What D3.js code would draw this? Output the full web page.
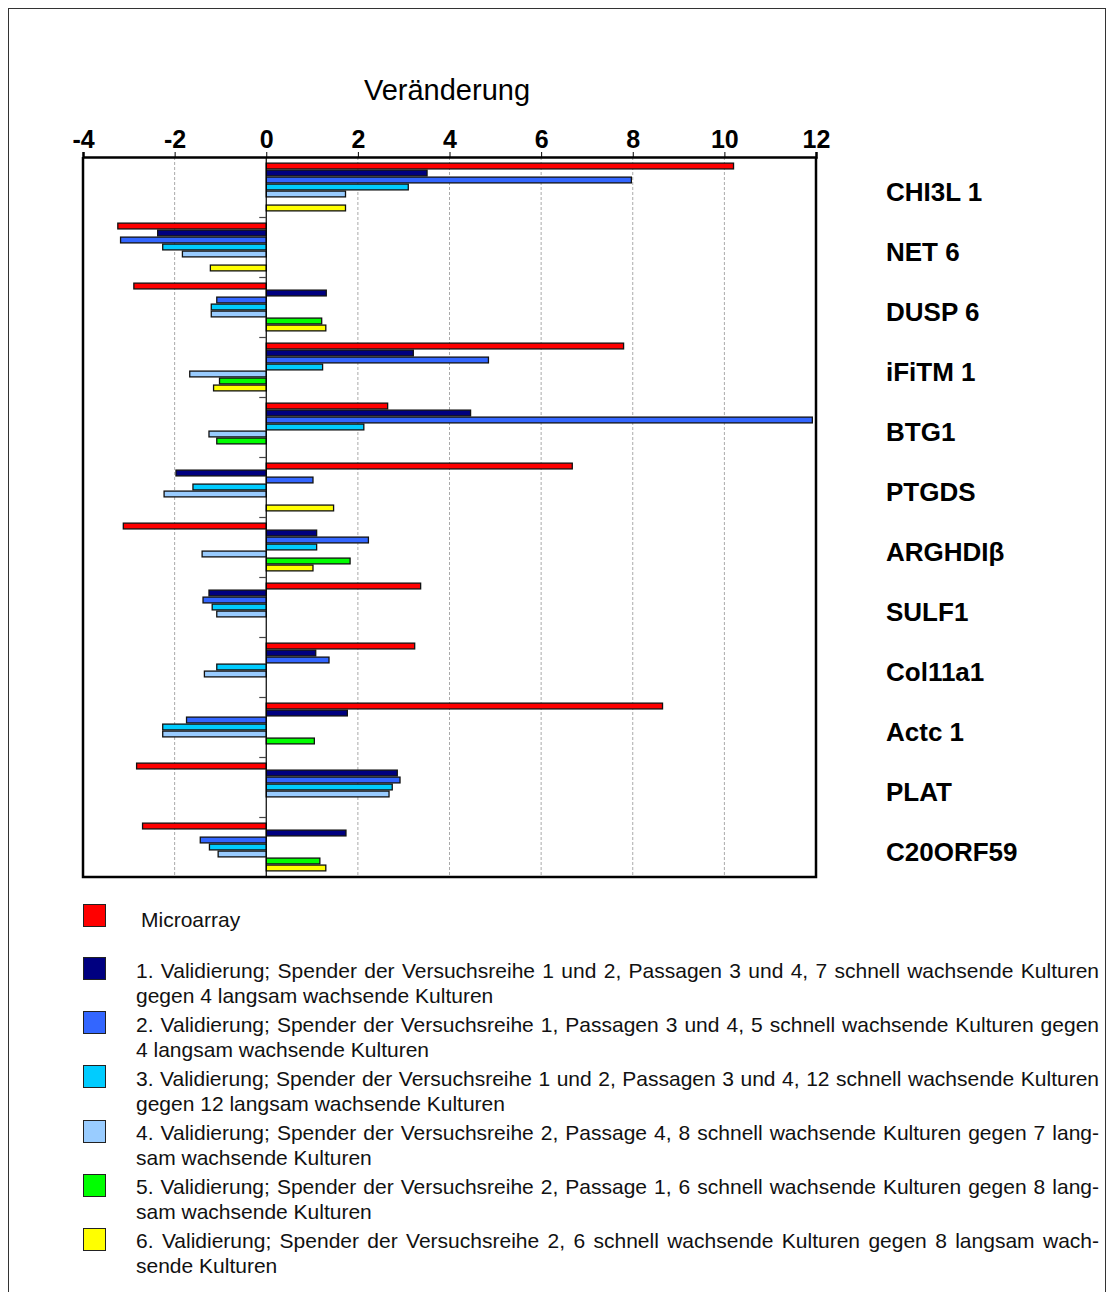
<!DOCTYPE html>
<html>
<head>
<meta charset="utf-8">
<script src="https://cdn.jsdelivr.net/npm/d3@7"></script>
<style>
  html, body { margin: 0; padding: 0; background: #fff; }
  svg { display: block; font-family: "Liberation Sans", Arial, sans-serif; }
</style>
</head>
<body>
<svg id="chart" width="1108" height="1292"></svg>
<script>
// Genes shown on the chart (top to bottom)
const categories = ["CHI3L 1", "NET 6", "DUSP 6", "iFiTM 1", "BTG1", "PTGDS",
  "ARGHDIβ", "SULF1", "Col11a1", "Actc 1", "PLAT", "C20ORF59"];

// Fold change per gene for each series (null = not measured)
const microarray = [10.2, -3.24, -2.89, 7.8, 2.65, 6.68, -3.12, 3.37, 3.24, 8.65, -2.83, -2.7];
const validation1 = [3.51, -2.37, 1.31, 3.21, 4.46, -1.97, 1.10, -1.25, 1.08, 1.77, 2.86, 1.74];
const validation2 = [7.97, -3.18, -1.08, 4.85, 11.92, 1.02, 2.23, -1.38, 1.37, -1.74, 2.92, -1.44];
const validation3 = [3.1, -2.26, -1.2, 1.23, 2.13, -1.6, 1.1, -1.18, -1.08, -2.26, 2.75, -1.24];
const validation4 = [1.73, -1.83, -1.2, -1.67, -1.25, -2.23, -1.4, -1.08, -1.35, -2.26, 2.68, -1.05];
const validation5 = [null, null, 1.21, -1.02, -1.08, null, 1.83, null, null, 1.05, null, 1.17];
const validation6 = [1.73, -1.22, 1.30, -1.15, null, 1.47, 1.02, null, null, null, null, 1.30];

// Axis ticks
const xTicks = [-4, -2, 0, 2, 4, 6, 8, 10, 12];
const xTitle = "Veränderung";

// Series colours
const seriesColors = ["#FF0000", "#000080", "#3366FF", "#00CCFF", "#99CCFF", "#00FF00", "#FFFF00"];

// Legend labels, split into their printed lines
const legendLabels = [
  ["Microarray"],
  ["1. Validierung; Spender der Versuchsreihe 1 und 2, Passagen 3 und 4, 7 schnell wachsende Kulturen",
   "gegen 4 langsam wachsende Kulturen"],
  ["2. Validierung; Spender der Versuchsreihe 1, Passagen 3 und 4, 5 schnell wachsende Kulturen gegen",
   "4 langsam wachsende Kulturen"],
  ["3. Validierung; Spender der Versuchsreihe 1 und 2, Passagen 3 und 4, 12 schnell wachsende Kulturen",
   "gegen 12 langsam wachsende Kulturen"],
  ["4. Validierung; Spender der Versuchsreihe 2, Passage 4, 8 schnell wachsende Kulturen gegen 7 lang-",
   "sam wachsende Kulturen"],
  ["5. Validierung; Spender der Versuchsreihe 2, Passage 1, 6 schnell wachsende Kulturen gegen 8 lang-",
   "sam wachsende Kulturen"],
  ["6. Validierung; Spender der Versuchsreihe 2, 6 schnell wachsende Kulturen gegen 8 langsam wach-",
   "sende Kulturen"]
];

const seriesValues = [microarray, validation1, validation2, validation3, validation4, validation5, validation6];
const seriesIdx = d3.range(seriesValues.length);

const svg = d3.select("#chart");

// Outer frame
svg.append("rect")
  .attr("x", 8.5).attr("y", 8.5).attr("width", 1097).attr("height", 1300)
  .attr("fill", "none").attr("stroke", "#333").attr("stroke-width", 1);

const plot = { left: 83, right: 816, top: 157, bottom: 877 };

const x = d3.scaleLinear().domain([-4, 12]).range([plot.left, plot.right]);
const y0 = d3.scaleBand().domain(categories).range([plot.top, plot.bottom]);
const y1 = d3.scaleBand().domain(seriesIdx).range([0, y0.bandwidth()]).paddingOuter(0.79);

// Dotted vertical grid
svg.append("g")
  .selectAll("line")
  .data(xTicks.filter(t => t !== 0 && t !== -4 && t !== 12))
  .join("line")
  .attr("x1", d => x(d)).attr("x2", d => x(d))
  .attr("y1", plot.top).attr("y2", plot.bottom)
  .attr("stroke", "#aaa").attr("stroke-width", 1).attr("stroke-dasharray", "3,2");

// Bars
const bars = [];
categories.forEach((c, ci) => {
  seriesIdx.forEach(si => {
    const v = seriesValues[si][ci];
    if (v !== null && v !== undefined) bars.push({ c, si, v });
  });
});

svg.append("g")
  .selectAll("rect")
  .data(bars)
  .join("rect")
  .attr("x", d => x(Math.min(0, d.v)))
  .attr("width", d => Math.abs(x(d.v) - x(0)))
  .attr("y", d => y0(d.c) + y1(d.si) + 0.6)
  .attr("height", y1.bandwidth() - 1.2)
  .attr("fill", d => seriesColors[d.si])
  .attr("stroke", "#111").attr("stroke-width", 1.3);

// Zero line with category separator ticks
svg.append("line")
  .attr("x1", x(0)).attr("x2", x(0))
  .attr("y1", plot.top).attr("y2", plot.bottom)
  .attr("stroke", "#000").attr("stroke-width", 1.2);

svg.append("g")
  .selectAll("line")
  .data(categories.slice(1))
  .join("line")
  .attr("x1", x(0) - 7).attr("x2", x(0))
  .attr("y1", d => y0(d) + 0.5).attr("y2", d => y0(d) + 0.5)
  .attr("stroke", "#444").attr("stroke-width", 1.2);

// Plot border (left, right, bottom)
svg.append("path")
  .attr("d", `M${plot.left},${plot.top}V${plot.bottom}H${plot.right}V${plot.top}`)
  .attr("fill", "none").attr("stroke", "#000").attr("stroke-width", 2.5);

// Top value axis
const axis = svg.append("g")
  .attr("transform", `translate(0,${plot.top})`)
  .call(d3.axisTop(x).tickValues(xTicks).tickSize(5).tickPadding(4).tickFormat(d3.format("d")));
axis.select(".domain").attr("stroke", "#000").attr("stroke-width", 2.5);
axis.selectAll(".tick line").attr("stroke", "#000").attr("stroke-width", 1);
axis.selectAll(".tick text")
  .attr("font-family", "'Liberation Sans', Arial, sans-serif")
  .attr("font-size", 25).attr("font-weight", "bold").attr("fill", "#000")
  .text(d => d < 0 ? "-" + Math.abs(d) : d);

// Axis title
svg.append("text")
  .attr("x", 447).attr("y", 100)
  .attr("text-anchor", "middle")
  .attr("font-size", 29).attr("fill", "#000")
  .text(xTitle);

// Gene labels to the right of the plot
svg.append("g")
  .selectAll("text")
  .data(categories)
  .join("text")
  .attr("x", 886)
  .attr("y", d => y0(d) + y0.bandwidth() / 2 + 14)
  .attr("font-size", 26).attr("font-weight", "bold").attr("fill", "#000")
  .text(d => d);

// Legend
const legend = svg.append("g");
const lineGap = 25;
const justifyWidth = 963;
const legendRows = [
  { top: 904, textX: 141, base: 926.5 },
  { top: 957, textX: 136, base: 978 },
  { top: 1011, textX: 136, base: 1032 },
  { top: 1065, textX: 136, base: 1085.5 },
  { top: 1120, textX: 136, base: 1139.5 },
  { top: 1174, textX: 136, base: 1194 },
  { top: 1228, textX: 136, base: 1248 }
];

legendLabels.forEach((lines, i) => {
  const row = legendRows[i];
  legend.append("rect")
    .attr("x", 83.5).attr("y", row.top + 0.5)
    .attr("width", 22).attr("height", 22)
    .attr("fill", seriesColors[i]).attr("stroke", "#222").attr("stroke-width", 1);

  lines.forEach((line, li) => {
    const t = legend.append("text")
      .attr("y", row.base + li * lineGap)
      .attr("font-size", 21).attr("fill", "#111");
    if (lines.length > 1 && li === 0) {
      // justified first line: spread words across the full text width
      const words = line.split(" ");
      const spans = words.map(w => t.append("tspan").text(w));
      const widths = spans.map(s => s.node().getComputedTextLength());
      const total = d3.sum(widths);
      const gap = (justifyWidth - total) / (words.length - 1);
      let cx = row.textX;
      spans.forEach((s, k) => {
        s.attr("x", cx);
        cx += widths[k] + gap;
      });
    } else {
      t.attr("x", row.textX).text(line);
    }
  });
});
</script>
</body>
</html>
